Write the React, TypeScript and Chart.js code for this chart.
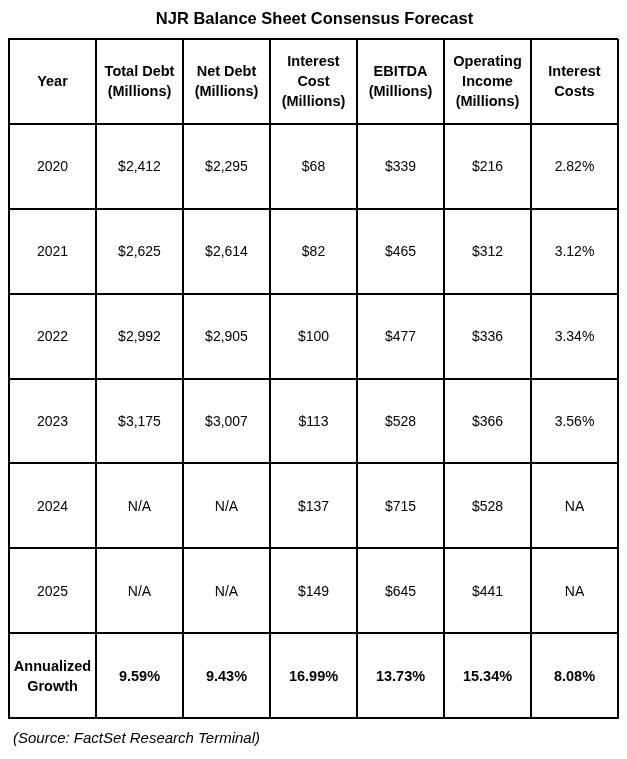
import React, { useEffect, useRef } from "react";
import { Chart, registerables } from "chart.js";

Chart.register(...registerables);

const titleText = "NJR Balance Sheet Consensus Forecast";
const sourceText = "(Source: FactSet Research Terminal)";

const headers: string[][] = [
  ["Year"],
  ["Total Debt", "(Millions)"],
  ["Net Debt", "(Millions)"],
  ["Interest", "Cost", "(Millions)"],
  ["EBITDA", "(Millions)"],
  ["Operating", "Income", "(Millions)"],
  ["Interest", "Costs"],
];

const years = ["2020", "2021", "2022", "2023", "2024", "2025"];
const totalDebt = ["$2,412", "$2,625", "$2,992", "$3,175", "N/A", "N/A"];
const netDebt = ["$2,295", "$2,614", "$2,905", "$3,007", "N/A", "N/A"];
const interestCost = ["$68", "$82", "$100", "$113", "$137", "$149"];
const ebitda = ["$339", "$465", "$477", "$528", "$715", "$645"];
const operatingIncome = ["$216", "$312", "$336", "$366", "$528", "$441"];
const interestCosts = ["2.82%", "3.12%", "3.34%", "3.56%", "NA", "NA"];
const growthLabel = ["Annualized", "Growth"];
const growth = ["9.59%", "9.43%", "16.99%", "13.73%", "15.34%", "8.08%"];

const FONT = "'Liberation Sans', Arial, sans-serif";

type Cell = { x: number; y: number; lines: string[]; bold: boolean };

function buildCells(): Cell[] {
  const cells: Cell[] = [];
  headers.forEach((h, c) => cells.push({ x: c + 0.5, y: 0.5, lines: h, bold: true }));
  const cols = [years, totalDebt, netDebt, interestCost, ebitda, operatingIncome, interestCosts];
  years.forEach((_, r) => {
    cols.forEach((col, c) => {
      cells.push({ x: c + 0.5, y: r + 1.5, lines: [col[r]], bold: false });
    });
  });
  const lastRow = years.length + 1;
  cells.push({ x: 0.5, y: lastRow + 0.5, lines: growthLabel, bold: true });
  growth.forEach((g, c) => cells.push({ x: c + 1.5, y: lastRow + 0.5, lines: [g], bold: true }));
  return cells;
}

const tablePlugin = {
  id: "tableText",
  afterDatasetsDraw(chart: any) {
    const ctx = chart.ctx;
    const meta = chart.getDatasetMeta(0);
    const data = chart.data.datasets[0].data as Cell[];
    ctx.save();
    ctx.fillStyle = "#000";
    ctx.textAlign = "center";
    ctx.textBaseline = "middle";
    meta.data.forEach((el: any, i: number) => {
      const cell = data[i];
      ctx.font = cell.bold ? `bold 14.5px ${FONT}` : `14px ${FONT}`;
      const lh = 20;
      const n = cell.lines.length;
      cell.lines.forEach((line, k) => {
        ctx.fillText(line, el.x, el.y + (k - (n - 1) / 2) * lh + 1);
      });
    });
    const area = chart.chartArea;
    ctx.font = `bold 16.5px ${FONT}`;
    ctx.fillText(titleText, (area.left + area.right) / 2 + 1, area.top - 20);
    ctx.font = `italic 15px ${FONT}`;
    ctx.textAlign = "left";
    ctx.fillText(sourceText, area.left + 4, area.bottom + 21);
    ctx.restore();
  },
};

export default function App() {
  const ref = useRef<HTMLCanvasElement>(null);
  useEffect(() => {
    if (!ref.current) return;
    const chart = new Chart(ref.current, {
      type: "scatter",
      data: {
        datasets: [
          {
            data: buildCells() as any,
            pointRadius: 0,
            pointHoverRadius: 0,
          },
        ],
      },
      options: {
        animation: false,
        responsive: false,
        devicePixelRatio: 1,
        layout: { padding: { left: 9, right: 9, top: 39, bottom: 41 } },
        plugins: { legend: { display: false }, tooltip: { enabled: false }, title: { display: false } },
        scales: {
          x: {
            type: "linear",
            min: 0,
            max: 7,
            ticks: { display: false, stepSize: 1 },
            grid: { color: "#000", lineWidth: 2, drawTicks: false },
            border: { display: true, color: "#000", width: 2 },
          },
          y: {
            type: "linear",
            reverse: true,
            min: 0,
            max: 8,
            ticks: { display: false, stepSize: 1 },
            grid: { color: "#000", lineWidth: 2, drawTicks: false },
            border: { display: true, color: "#000", width: 2 },
          },
        },
      },
      plugins: [tablePlugin],
    });
    return () => chart.destroy();
  }, []);
  return (
    <div style={{ position: "absolute", left: 0, top: 0, width: 627, height: 759, background: "#fff" }}>
      <canvas ref={ref} width={627} height={759} style={{ width: 627, height: 759 }} />
    </div>
  );
}
